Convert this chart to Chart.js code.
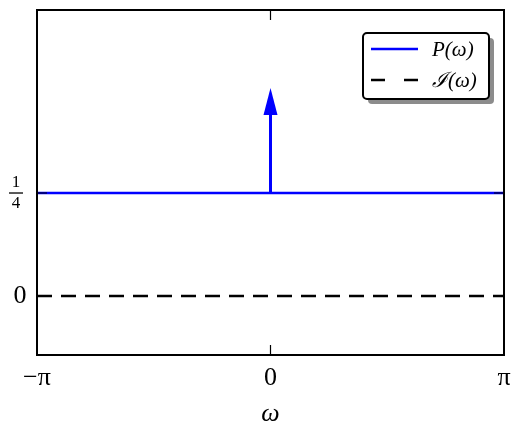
<!doctype html>
<html lang="en">
 <head>
  <meta charset="UTF-8">
  <title>P(omega) and I(omega)</title>
  <script src="https://cdn.jsdelivr.net/npm/chart.js@4.4.1/dist/chart.umd.min.js"></script>
  <style>
   html, body { margin: 0; padding: 0; background: #fff; }
   #wrap { width: 513px; height: 426px; }
  </style>
 </head>
 <body>
  <div id="wrap"><canvas id="c"></canvas></div>
  <script>
// data
const omegaEnds = [-Math.PI, Math.PI];
const pValues = [0.25, 0.25];
const iValues = [0, 0];
const impulseAt = 0;
const impulseBase = 0.25;
const impulseTip = 0.5;

const xTickValues = [-Math.PI, 0, Math.PI];
const xTickLabels = ['\u2212\u03c0', '0', '\u03c0'];
const yTickValues = [0, 0.25];
const yTickLabels = ['0', '1/4'];
const seriesNames = ['P(\u03c9)', '\u2110(\u03c9)'];
const xTitle = '\u03c9';

const serif = '"Liberation Serif", "DejaVu Serif", serif';
const blue = '#0000ff';

// arrow head + frame + ticks + labels + legend
const decor = {
  id: 'decor',
  afterDatasetsDraw(chart) {
    const ctx = chart.ctx;
    const xs = chart.scales.x, ys = chart.scales.y;
    const a = chart.chartArea;

    // arrow head
    const ax = xs.getPixelForValue(impulseAt);
    const at = ys.getPixelForValue(impulseTip);
    ctx.save();
    ctx.fillStyle = blue;
    ctx.beginPath();
    ctx.moveTo(ax, at - 2);
    ctx.lineTo(ax - 7, at + 25);
    ctx.lineTo(ax + 7, at + 25);
    ctx.closePath();
    ctx.fill();

    // frame
    ctx.strokeStyle = '#000';
    ctx.lineWidth = 2;
    ctx.strokeRect(a.left, a.top, a.right - a.left, a.bottom - a.top);

    // inward ticks
    ctx.lineWidth = 1.2;
    ctx.beginPath();
    xTickValues.forEach(v => {
      const px = xs.getPixelForValue(v);
      ctx.moveTo(px, a.bottom); ctx.lineTo(px, a.bottom - 10);
      ctx.moveTo(px, a.top); ctx.lineTo(px, a.top + 10);
    });
    yTickValues.forEach(v => {
      const py = ys.getPixelForValue(v);
      ctx.moveTo(a.left, py); ctx.lineTo(a.left + 10, py);
      ctx.moveTo(a.right, py); ctx.lineTo(a.right - 10, py);
    });
    ctx.stroke();

    // tick labels
    ctx.fillStyle = '#000';
    ctx.font = '26px ' + serif;
    ctx.textAlign = 'center';
    ctx.textBaseline = 'middle';
    xTickValues.forEach((v, i) => {
      ctx.fillText(xTickLabels[i], xs.getPixelForValue(v), a.bottom + 23);
    });
    yTickValues.forEach((v, i) => {
      const py = ys.getPixelForValue(v);
      const lab = yTickLabels[i];
      if (lab.indexOf('/') > 0) {
        const parts = lab.split('/');
        ctx.font = '17px ' + serif;
        ctx.fillText(parts[0], 16, py - 10);
        ctx.fillText(parts[1], 16, py + 11);
        ctx.lineWidth = 1.3;
        ctx.beginPath();
        ctx.moveTo(9, py); ctx.lineTo(23, py);
        ctx.stroke();
        ctx.font = '26px ' + serif;
      } else {
        ctx.fillText(lab, 20, py);
      }
    });

    // axis title
    ctx.font = 'italic 26px ' + serif;
    ctx.fillText(xTitle, xs.getPixelForValue(0), 414);

    // legend
    const lx = 363, ly = 33, lw = 126, lh = 66;
    ctx.fillStyle = 'rgba(0,0,0,0.45)';
    ctx.beginPath();
    ctx.roundRect(lx + 5, ly + 5, lw, lh, 4);
    ctx.fill();
    ctx.fillStyle = '#fff';
    ctx.strokeStyle = '#000';
    ctx.lineWidth = 2;
    ctx.beginPath();
    ctx.roundRect(lx, ly, lw, lh, 4);
    ctx.fill();
    ctx.stroke();

    const rows = [ly + 16, ly + 47];
    ctx.lineWidth = 2.5;
    ctx.strokeStyle = blue;
    ctx.beginPath();
    ctx.moveTo(lx + 8, rows[0]); ctx.lineTo(lx + 55, rows[0]);
    ctx.stroke();
    ctx.strokeStyle = '#000';
    ctx.setLineDash([14, 19]);
    ctx.beginPath();
    ctx.moveTo(lx + 8, rows[1]); ctx.lineTo(lx + 55, rows[1]);
    ctx.stroke();
    ctx.setLineDash([]);

    ctx.fillStyle = '#000';
    ctx.font = 'italic 21px ' + serif;
    ctx.textAlign = 'left';
    seriesNames.forEach((n, i) => ctx.fillText(n, lx + 69, rows[i] + 1));
    ctx.restore();
  }
};

const toPts = (xv, yv) => xv.map((x, i) => ({ x: x, y: yv[i] }));

new Chart(document.getElementById('c'), {
  type: 'line',
  data: {
    datasets: [
      {
        label: seriesNames[0],
        data: toPts(omegaEnds, pValues),
        borderColor: blue,
        borderWidth: 2.5,
        pointRadius: 0
      },
      {
        label: 'impulse',
        data: [{ x: impulseAt, y: impulseBase }, { x: impulseAt, y: impulseTip - 0.05 }],
        borderColor: blue,
        borderWidth: 3,
        pointRadius: 0
      },
      {
        label: seriesNames[1],
        data: toPts(omegaEnds, iValues),
        borderColor: '#000',
        borderWidth: 2.5,
        borderDash: [15, 9],
        pointRadius: 0
      }
    ]
  },
  options: {
    responsive: true,
    maintainAspectRatio: false,
    animation: false,
    events: [],
    layout: { padding: { top: 10, right: 9, left: 0, bottom: 0 } },
    plugins: { legend: { display: false }, tooltip: { enabled: false } },
    scales: {
      x: {
        type: 'linear',
        min: -Math.PI,
        max: Math.PI,
        grid: { display: false },
        border: { display: false },
        ticks: { display: false },
        afterFit: s => { s.height = 71; }
      },
      y: {
        min: -0.143,
        max: 0.694,
        grid: { display: false },
        border: { display: false },
        ticks: { display: false },
        afterFit: s => { s.width = 37; }
      }
    }
  },
  plugins: [decor]
});
  </script>
 </body>
</html>
